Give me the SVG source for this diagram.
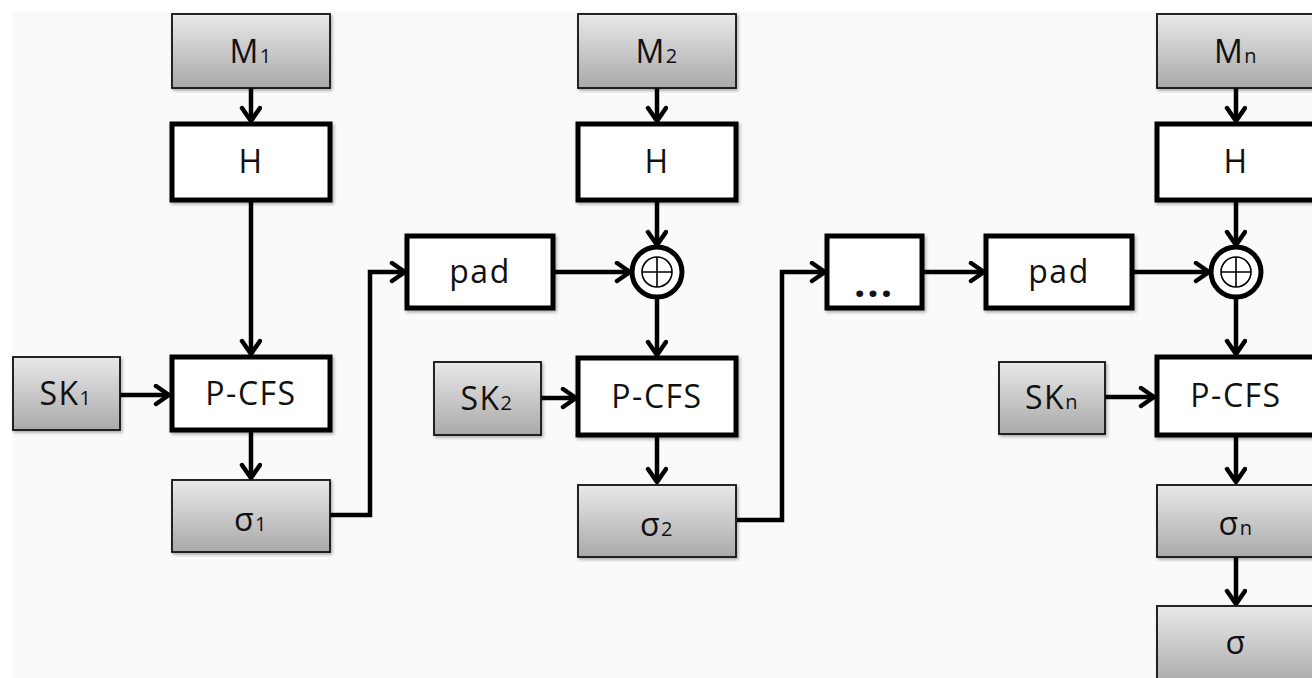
<svg xmlns="http://www.w3.org/2000/svg" width="1312" height="678" viewBox="0 0 1312 678">
<defs>
<linearGradient id="g" x1="0" y1="0" x2="0" y2="1">
<stop offset="0" stop-color="#e9e9e9"/>
<stop offset="1" stop-color="#a9a9a9"/>
</linearGradient>
<filter id="sh" x="-10%" y="-10%" width="130%" height="130%">
<feDropShadow dx="1.5" dy="2" stdDeviation="1.5" flood-color="#000" flood-opacity="0.3"/>
</filter>
<marker id="ah" markerUnits="userSpaceOnUse" markerWidth="22" markerHeight="24" refX="16" refY="11" orient="auto">
<path d="M3,2 L16,11 L3,20" fill="none" stroke="#000" stroke-width="4.5" stroke-linecap="round" stroke-linejoin="round"/>
</marker>
</defs>
<style>
.gray{fill:url(#g);stroke:#111;stroke-width:1.8;filter:url(#sh)}
.wh{fill:#fff;stroke:#000;stroke-width:5;filter:url(#sh)}
.t{font-family:"Open Sans","DejaVu Sans",sans-serif;font-size:32px;fill:#111;text-anchor:middle;letter-spacing:1.5px}
.s{font-size:20px}
.c{fill:none;stroke:#000;stroke-width:4.5;marker-end:url(#ah)}
</style>
<rect width="1312" height="678" fill="#fff"/>
<rect x="12" y="12" width="1300" height="666" fill="#fafafa"/>

<g id="connectors">
<line class="c" x1="251" y1="88" x2="251" y2="121"/>
<line class="c" x1="251" y1="200" x2="251" y2="354"/>
<line class="c" x1="120" y1="395" x2="169" y2="395"/>
<line class="c" x1="251" y1="430" x2="251" y2="478"/>
<path class="c" d="M330,515 H370 V272 H405"/>
<line class="c" x1="553" y1="272" x2="630" y2="272"/>
<line class="c" x1="657" y1="88" x2="657" y2="121"/>
<line class="c" x1="657" y1="200" x2="657" y2="245"/>
<line class="c" x1="657" y1="299" x2="657" y2="355"/>
<line class="c" x1="541" y1="398" x2="576" y2="398"/>
<line class="c" x1="657" y1="435" x2="657" y2="482"/>
<path class="c" d="M737,520 H782 V272 H825"/>
<line class="c" x1="922" y1="272" x2="984" y2="272"/>
<line class="c" x1="1132" y1="272" x2="1209" y2="272"/>
<line class="c" x1="1236" y1="88" x2="1236" y2="121"/>
<line class="c" x1="1236" y1="200" x2="1236" y2="245"/>
<line class="c" x1="1236" y1="299" x2="1236" y2="354"/>
<line class="c" x1="1105" y1="397" x2="1154" y2="397"/>
<line class="c" x1="1236" y1="435" x2="1236" y2="482"/>
<line class="c" x1="1236" y1="557" x2="1236" y2="604"/>
</g>

<g id="M1"><rect class="gray" x="172" y="14" width="158" height="74"/><text class="t" x="251" y="63">M<tspan class="s">1</tspan></text></g>
<g id="H1"><rect class="wh" x="172" y="124" width="158" height="76"/><text class="t" x="251" y="173">H</text></g>
<g id="SK1"><rect class="gray" x="13" y="357" width="107" height="73"/><text class="t" x="66" y="405">SK<tspan class="s">1</tspan></text></g>
<g id="PCFS1"><rect class="wh" x="172" y="357" width="158" height="73"/><text class="t" x="251" y="405">P-CFS</text></g>
<g id="sigma1"><rect class="gray" x="172" y="480" width="158" height="72"/><text class="t" x="251" y="531">σ<tspan class="s">1</tspan></text></g>

<g id="pad1"><rect class="wh" x="407" y="236" width="146" height="72"/><text class="t" x="480" y="283">pad</text></g>

<g id="M2"><rect class="gray" x="578" y="14" width="158" height="74"/><text class="t" x="657" y="63">M<tspan class="s">2</tspan></text></g>
<g id="H2"><rect class="wh" x="578" y="124" width="158" height="76"/><text class="t" x="657" y="173">H</text></g>
<g id="xor2"><circle cx="657" cy="272" r="25" fill="#fff" stroke="#000" stroke-width="5"/><circle cx="657" cy="272" r="15" fill="none" stroke="#000" stroke-width="1.6"/><path d="M642,272 H672 M657,257 V287" stroke="#000" stroke-width="1.6"/></g>
<g id="SK2"><rect class="gray" x="434" y="362" width="107" height="73"/><text class="t" x="487" y="410">SK<tspan class="s">2</tspan></text></g>
<g id="PCFS2"><rect class="wh" x="578" y="358" width="158" height="77"/><text class="t" x="657" y="408">P-CFS</text></g>
<g id="sigma2"><rect class="gray" x="578" y="485" width="158" height="72"/><text class="t" x="657" y="536">σ<tspan class="s">2</tspan></text></g>

<g id="dots"><rect class="wh" x="827" y="236" width="95" height="72"/><text class="t" x="874" y="297" style="font-weight:bold;font-size:40px;letter-spacing:2px">...</text></g>
<g id="pad2"><rect class="wh" x="986" y="236" width="146" height="72"/><text class="t" x="1059" y="283">pad</text></g>

<g id="Mn"><rect class="gray" x="1157" y="14" width="160" height="74"/><text class="t" x="1236" y="63">M<tspan class="s">n</tspan></text></g>
<g id="Hn"><rect class="wh" x="1157" y="124" width="160" height="76"/><text class="t" x="1236" y="173">H</text></g>
<g id="xorn"><circle cx="1236" cy="272" r="25" fill="#fff" stroke="#000" stroke-width="5"/><circle cx="1236" cy="272" r="15" fill="none" stroke="#000" stroke-width="1.6"/><path d="M1221,272 H1251 M1236,257 V287" stroke="#000" stroke-width="1.6"/></g>
<g id="SKn"><rect class="gray" x="999" y="362" width="106" height="72"/><text class="t" x="1052" y="409">SK<tspan class="s">n</tspan></text></g>
<g id="PCFSn"><rect class="wh" x="1157" y="357" width="160" height="78"/><text class="t" x="1236" y="407">P-CFS</text></g>
<g id="sigman"><rect class="gray" x="1157" y="485" width="160" height="72"/><text class="t" x="1236" y="535">σ<tspan class="s">n</tspan></text></g>
<g id="sigma"><rect class="gray" x="1157" y="606" width="160" height="80"/><text class="t" x="1236" y="654">σ</text></g>
</svg>
